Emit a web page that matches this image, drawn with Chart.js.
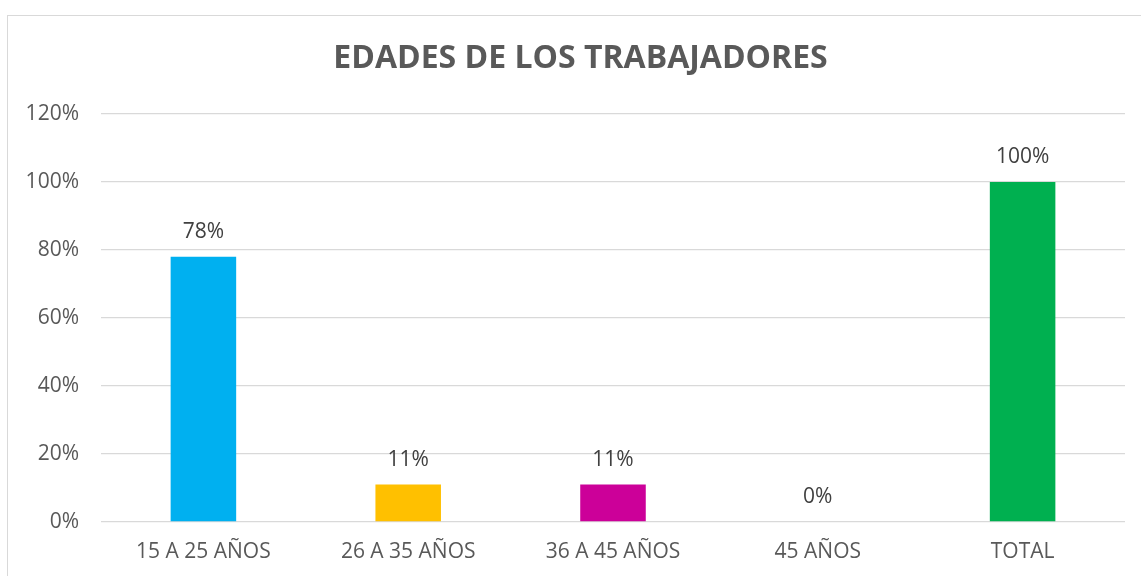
<!DOCTYPE html>
<html>
<head>
<meta charset="utf-8">
<script src="https://cdn.jsdelivr.net/npm/chart.js@4"></script>
<style>
    html, body { margin: 0; padding: 0; background: #fff; overflow: hidden; }
    #frame {
        position: absolute; left: 7px; top: 15px;
        width: 1300px; height: 700px;
        border: 1px solid #d9d9d9;
    }
    #wrap { position: absolute; left: 0; top: 0; width: 1141px; height: 576px; }
</style>
</head>
<body>
<div id="frame"></div>
<div id="wrap"><canvas id="edadesChart"></canvas></div>
<script>
// Datos del gráfico
const titulo = 'EDADES DE LOS TRABAJADORES';
const categorias = ['15 A 25 AÑOS', '26 A 35 AÑOS', '36 A 45 AÑOS', '45 AÑOS', 'TOTAL'];
const porcentajes = [78, 11, 11, 0, 100];
const colores = ['#00B0F0', '#FFC000', '#CC0099', '#7F7F7F', '#00B050'];
const ticksY = [0, 20, 40, 60, 80, 100, 120];

const fuente = "'Open Sans', sans-serif";

// Título y etiquetas de valor encima de cada barra
const etiquetasPlugin = {
    id: 'etiquetas',
    afterDatasetsDraw(chart) {
        const ctx = chart.ctx;
        const meta = chart.getDatasetMeta(0);
        ctx.save();
        ctx.textAlign = 'center';
        ctx.textBaseline = 'middle';

        ctx.font = 'bold 32px ' + fuente;
        ctx.fillStyle = '#595959';
        ctx.fillText(titulo, 580.5, 58.5);

        ctx.font = '21px ' + fuente;
        ctx.fillStyle = '#404040';
        meta.data.forEach((bar, i) => {
            ctx.fillText(porcentajes[i] + '%', bar.x, bar.y - 25);
        });
        ctx.restore();
    }
};

document.addEventListener('DOMContentLoaded', () => {
    const ctx = document.getElementById('edadesChart').getContext('2d');
    new Chart(ctx, {
        type: 'bar',
        data: {
            labels: categorias,
            datasets: [{
                data: porcentajes,
                backgroundColor: colores,
                categoryPercentage: 1,
                barPercentage: 0.32
            }]
        },
        options: {
            responsive: true,
            maintainAspectRatio: false,
            animation: false,
            layout: {
                padding: { left: 0, right: 16, top: 114, bottom: 0 }
            },
            scales: {
                y: {
                    min: 0,
                    max: 120,
                    afterFit: (scale) => { scale.width = 101; },
                    afterBuildTicks: (scale) => {
                        scale.ticks = ticksY.map(v => ({ value: v }));
                    },
                    border: { display: false },
                    grid: {
                        color: '#d9d9d9',
                        lineWidth: 1.3,
                        drawTicks: false
                    },
                    ticks: {
                        padding: 22,
                        color: '#595959',
                        font: { family: fuente, size: 21 },
                        callback: function(value) {
                            return value + '%';
                        }
                    }
                },
                x: {
                    afterFit: (scale) => { scale.height = 54; },
                    border: { display: false },
                    grid: { display: false, drawTicks: false },
                    ticks: {
                        padding: 17,
                        maxRotation: 0,
                        color: '#595959',
                        font: { family: fuente, size: 21 }
                    }
                }
            },
            plugins: {
                legend: { display: false },
                tooltip: { enabled: false },
                title: { display: false }
            }
        },
        plugins: [etiquetasPlugin]
    });
});
</script>
</body>
</html>
